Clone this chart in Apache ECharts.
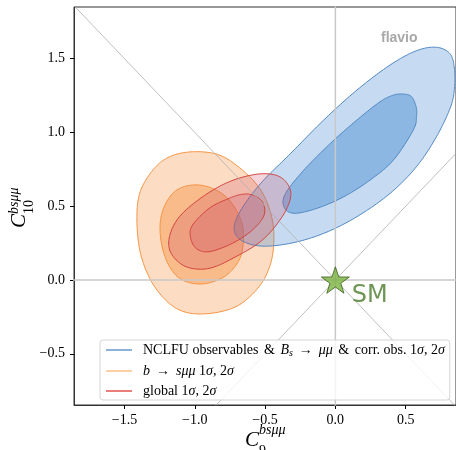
<!DOCTYPE html>
<html><head><meta charset="utf-8">
<script src="https://cdn.jsdelivr.net/npm/echarts@6/dist/echarts.min.js"></script>
<style>html,body{margin:0;padding:0;background:#fff}#c{width:456px;height:450px}</style>
</head><body><div id="c"></div>
<script>
// ---- data ----
const xTicks = [-1.5, -1.0, -0.5, 0.0, 0.5];
const yTicks = [-0.5, 0.0, 0.5, 1.0, 1.5];
const xRange = [-1.859, 0.858];
const yRange = [-0.847, 1.850];

// NCLFU observables & Bs->mumu & corr. obs. (2 sigma, 1 sigma)
const blue2 = [[0.577,1.554],[0.719,1.577],[0.814,1.535],[0.845,1.445],[0.848,1.31],[0.82,1.174],[0.719,0.971],[0.577,0.768],[0.389,0.587],[0.153,0.429],[-0.083,0.316],[-0.318,0.249],[-0.531,0.230],[-0.672,0.271],[-0.720,0.350],[-0.672,0.474],[-0.531,0.655],[-0.318,0.858],[-0.083,1.084],[0.153,1.287],[0.389,1.457]];
const blue1 = [[0.483,1.260],[0.541,1.243],[0.574,1.175],[0.577,1.106],[0.554,1.016],[0.413,0.813],[0.248,0.678],[0.059,0.564],[-0.130,0.486],[-0.295,0.452],[-0.366,0.497],[-0.354,0.587],[-0.224,0.745],[-0.035,0.926],[0.153,1.084],[0.318,1.208],[0.413,1.253]];
// b -> s mu mu
const orange2 = [[-1.015,0.869],[-0.826,0.847],[-0.661,0.745],[-0.531,0.610],[-0.460,0.452],[-0.437,0.293],[-0.460,0.113],[-0.543,-0.045],[-0.708,-0.181],[-0.944,-0.230],[-1.132,-0.192],[-1.286,-0.045],[-1.380,0.158],[-1.411,0.384],[-1.392,0.587],[-1.298,0.745],[-1.180,0.835]];
const orange1 = [[-1.015,0.644],[-0.873,0.621],[-0.755,0.542],[-0.672,0.407],[-0.654,0.271],[-0.684,0.136],[-0.791,0.022],[-0.955,-0.027],[-1.109,0.012],[-1.203,0.136],[-1.246,0.316],[-1.227,0.474],[-1.144,0.598]];
// global
const red2 = [[-0.566,0.716],[-0.425,0.711],[-0.343,0.655],[-0.318,0.564],[-0.378,0.429],[-0.519,0.271],[-0.708,0.158],[-0.897,0.079],[-1.062,0.090],[-1.168,0.181],[-1.180,0.293],[-1.109,0.429],[-0.944,0.564],[-0.755,0.666]];
const red1 = [[-0.661,0.581],[-0.590,0.576],[-0.519,0.530],[-0.507,0.440],[-0.590,0.339],[-0.732,0.249],[-0.897,0.192],[-0.991,0.215],[-1.031,0.293],[-1.015,0.373],[-0.897,0.486],[-0.755,0.554]];

const smPoint = [[0, 0]];
const zeroV = [[0, -5], [0, 5]];
const zeroH = [[-5, 0], [5, 0]];
const diagUp = [[-5, -5], [5, 5]];
const diagDown = [[-5, 5], [5, -5]];

const legendNames = ['nclfu', 'bsmumu', 'global'];
const legendLabels = {
  nclfu: 'NCLFU observables {n|&} {i|B}{s|s}{a|→}{i|μμ} {n|&} corr. obs. 1{i|σ}, 2{i|σ}',
  bsmumu: '{i|b}{a|→}{i|sμμ} 1{i|σ}, 2{i|σ}',
  global: 'global 1{i|σ}, 2{i|σ}'
};
const legendColors = ['#6699cc', '#fdbf86', '#e5534b'];

// ---- chart ----
const SERIF = '"Liberation Serif", "DejaVu Serif", serif';
// closed Catmull-Rom curve through the contour's pixel positions (rendering only)
function smoothClosed(px) {
  const n = px.length, out = [], steps = 14;
  for (let i = 0; i < n; i++) {
    const p0 = px[(i - 1 + n) % n], p1 = px[i], p2 = px[(i + 1) % n], p3 = px[(i + 2) % n];
    for (let s = 0; s < steps; s++) {
      const t = s / steps, t2 = t * t, t3 = t2 * t;
      const f = (a, b, c, d) => 0.5 * ((2 * b) + (-a + c) * t + (2 * a - 5 * b + 4 * c - d) * t2 + (-a + 3 * b - 3 * c + d) * t3);
      out.push([f(p0[0], p1[0], p2[0], p3[0]), f(p0[1], p1[1], p2[1], p3[1])]);
    }
  }
  return out;
}
function poly(name, pts, fill, stroke) {
  return {
    type: 'custom', name: name, coordinateSystem: 'cartesian2d', data: pts,
    clip: true, silent: true, animation: false,
    renderItem: function (params, api) {
      if (params.dataIndex !== 0) return null;
      const px = pts.map(function (p) { return api.coord(p); });
      return { type: 'polygon', shape: { points: smoothClosed(px) },
               style: { fill: fill, stroke: stroke, lineWidth: 1 } };
    }
  };
}
function refLine(data, color, width) {
  return { type: 'line', data: data, showSymbol: false, symbol: 'none', silent: true, animation: false,
           lineStyle: { color: color, width: width }, z: 3, clip: true };
}
const fmt = v => (v < 0 ? '−' : '') + Math.abs(v).toFixed(1);
const chart = echarts.init(document.getElementById('c'), null, { renderer: 'canvas' });
chart.setOption({
  animation: false,
  grid: { left: 74, top: 7, right: -2, bottom: 45, show: true, borderColor: '#333', borderWidth: 1, backgroundColor: 'transparent' },
  xAxis: {
    type: 'value', min: xRange[0], max: xRange[1],
    axisLine: { show: true, onZero: false, lineStyle: { color: '#333', width: 1 } },
    axisTick: { show: true, length: 4, customValues: xTicks, lineStyle: { color: '#000' } },
    axisLabel: { customValues: xTicks, formatter: fmt, color: '#000', fontFamily: SERIF, fontSize: 14, margin: 8 },
    splitLine: { show: false }
  },
  yAxis: {
    type: 'value', min: yRange[0], max: yRange[1],
    axisLine: { show: true, onZero: false, lineStyle: { color: '#333', width: 1 } },
    axisTick: { show: true, length: 4, customValues: yTicks, lineStyle: { color: '#000' } },
    axisLabel: { customValues: yTicks, formatter: fmt, color: '#000', fontFamily: SERIF, fontSize: 14, margin: 9 },
    splitLine: { show: false }
  },
  legend: {
    left: 100, top: 340, orient: 'vertical', icon: 'rect', itemWidth: 26, itemHeight: 1.5, itemGap: 6,
    padding: [2, 5, 2, 6], backgroundColor: 'rgba(255,255,255,0.8)', borderColor: '#d4d4d4', borderWidth: 1, borderRadius: 3,
    selectedMode: false, z: 20,
    data: legendNames.map((n, i) => ({ name: n, itemStyle: { color: legendColors[i] } })),
    formatter: n => legendLabels[n],
    textStyle: {
      fontFamily: SERIF, fontSize: 14, color: '#000', lineHeight: 14, padding: [0, 0, 0, 6],
      rich: {
        n: { fontFamily: SERIF, fontSize: 14, color: '#000', lineHeight: 14, padding: [0, 2, 0, 2] },
        i: { fontFamily: SERIF, fontSize: 14, fontStyle: 'italic', color: '#000', lineHeight: 14 },
        a: { fontFamily: SERIF, fontSize: 14, color: '#000', lineHeight: 14, padding: [0, 6, 0, 6] },
        s: { fontFamily: SERIF, fontSize: 10, fontStyle: 'italic', color: '#000', lineHeight: 14, padding: [6, 0, 0, 0] }
      }
    }
  },
  graphic: [
    { type: 'text', left: 381, top: 31, z: 10, style: { text: 'flavio', font: 'bold 14px "Liberation Sans", sans-serif', fill: '#a8a8a8' } },
    { type: 'text', x: 245, y: 440, z: 10, style: { text: 'C', font: 'italic 21px ' + SERIF, fill: '#000', verticalAlign: 'middle' } },
    { type: 'text', x: 259, y: 430, z: 10, style: { text: 'bsμμ', font: 'italic 14px ' + SERIF, fill: '#000', verticalAlign: 'middle' } },
    { type: 'text', x: 259, y: 451, z: 10, style: { text: '9', font: '14px ' + SERIF, fill: '#000', verticalAlign: 'middle' } },
    { type: 'group', x: 26, y: 228, rotation: Math.PI / 2, z: 10, children: [
      { type: 'text', x: 0, y: -6.3, style: { text: 'C', font: 'italic 21px ' + SERIF, fill: '#000', verticalAlign: 'middle' } },
      { type: 'text', x: 14, y: -11.5, style: { text: 'bsμμ', font: 'italic 14px ' + SERIF, fill: '#000', verticalAlign: 'middle' } },
      { type: 'text', x: 14, y: 3, style: { text: '10', font: '14px ' + SERIF, fill: '#000', verticalAlign: 'middle' } }
    ] }
  ],
  series: [
    poly('bsmumu', orange2, 'rgba(250,140,60,0.30)', '#f4923f'),
    poly('bsmumu', orange1, 'rgba(245,140,60,0.42)', '#f4923f'),
    poly('nclfu', blue2, 'rgba(70,140,210,0.31)', '#4f86c0'),
    poly('nclfu', blue1, 'rgba(70,140,210,0.45)', '#4f86c0'),
    poly('global', red2, 'rgba(200,70,95,0.23)', '#d0413c'),
    poly('global', red1, 'rgba(200,70,95,0.23)', '#d0413c'),
    refLine(zeroV, '#c8c8c8', 1.5),
    refLine(zeroH, '#c8c8c8', 1.5),
    refLine(diagUp, '#b0b0b0', 0.8),
    refLine(diagDown, '#b0b0b0', 0.8),
    {
      type: 'scatter', data: smPoint, z: 6, silent: true, animation: false,
      symbol: 'path://M50,0 L61.8,35.1 L98.1,35.1 L68.8,56.7 L79.4,90.9 L50,69.6 L20.6,90.9 L31.2,56.7 L1.9,35.1 L38.2,35.1 Z',
      symbolSize: 28, symbolKeepAspect: true,
      itemStyle: { color: '#7cb342', borderColor: '#3a5f1a', borderWidth: 1 },
      label: { show: true, formatter: 'SM', position: 'right', distance: 2, offset: [0, 16],
               fontFamily: '"DejaVu Sans", sans-serif', fontSize: 24, color: '#4a7a28' }
    }
  ]
});
</script>
</body></html>
